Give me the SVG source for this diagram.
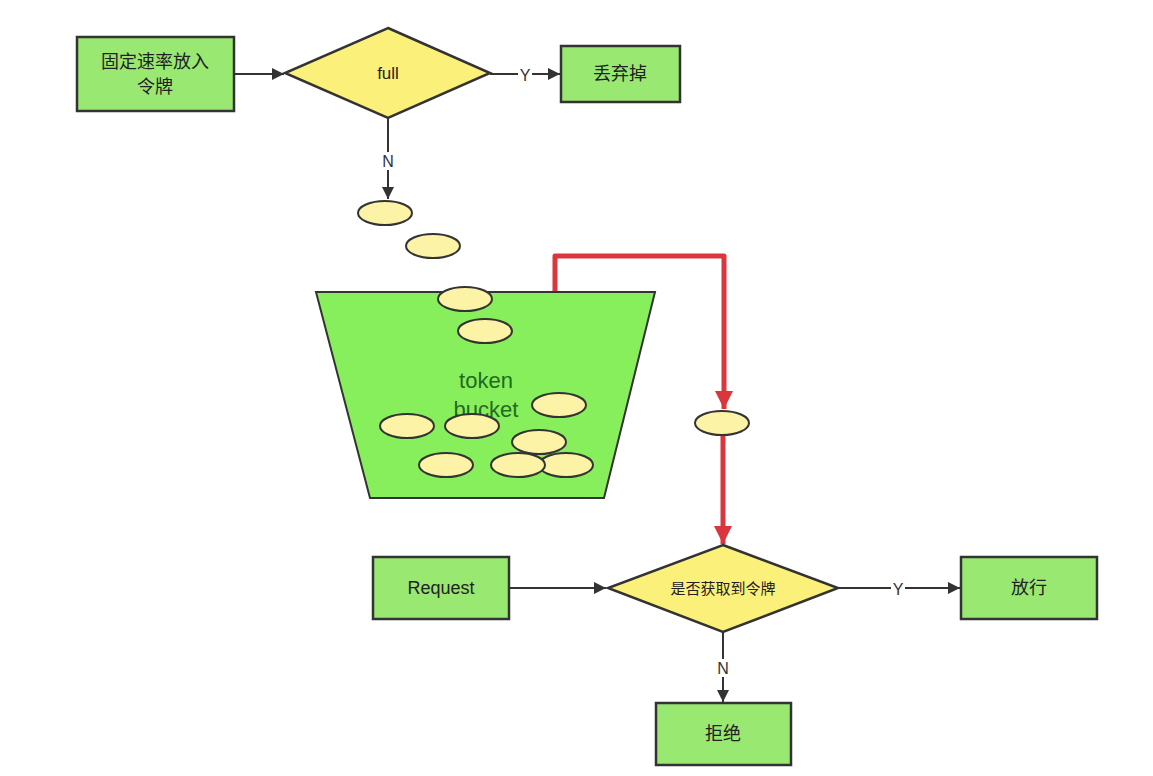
<svg xmlns="http://www.w3.org/2000/svg" width="1153" height="776" viewBox="0 0 1153 776">
<defs>
<style>
.box{fill:#99e872;stroke:#333;stroke-width:2.5}
.dia{fill:#fbf07a;stroke:#333;stroke-width:2.5}
.tok{fill:#fdf3a6;stroke:#333;stroke-width:2}
.bucket{fill:#88ef5c;stroke:#333;stroke-width:2}
.t{font-family:"Liberation Sans","Noto Sans CJK SC",sans-serif;fill:#222;text-anchor:middle;dominant-baseline:central}
.c{stroke:#333;stroke-width:2;fill:none}
.r{stroke:#d9363e;stroke-width:5;fill:none;stroke-linejoin:round}
.lbl{font-family:"Liberation Sans",sans-serif;font-size:16px;fill:#333;text-anchor:middle;dominant-baseline:central}
</style>
<marker id="ah" viewBox="0 0 10 10" refX="10" refY="5" markerWidth="15" markerHeight="12" markerUnits="userSpaceOnUse" orient="auto"><path d="M0,0 L10,5 L0,10 Z" fill="#333"/></marker>
<marker id="rh" viewBox="0 0 10 10" refX="10" refY="5" markerWidth="26" markerHeight="18" markerUnits="userSpaceOnUse" orient="auto"><path d="M0,0 L10,5 L0,10 Z" fill="#d9363e"/></marker>
</defs>
<rect width="1153" height="776" fill="#fff"/>

<g id="connectors">
<line class="c" x1="234" y1="74" x2="284" y2="74" marker-end="url(#ah)"/>
<line class="c" x1="490" y1="74" x2="518" y2="74"/>
<line class="c" x1="532" y1="74" x2="560" y2="74" marker-end="url(#ah)"/>
<text class="lbl" x="525" y="75">Y</text>
<line class="c" x1="388" y1="118" x2="388" y2="152"/>
<line class="c" x1="388" y1="170" x2="388" y2="199" marker-end="url(#ah)"/>
<text class="lbl" x="388" y="161">N</text>
<line class="c" x1="509" y1="588" x2="606" y2="588" marker-end="url(#ah)"/>
<line class="c" x1="838" y1="588" x2="891" y2="588"/>
<line class="c" x1="905" y1="588" x2="960" y2="588" marker-end="url(#ah)"/>
<text class="lbl" x="898" y="589">Y</text>
<line class="c" x1="723" y1="632" x2="723" y2="659"/>
<line class="c" x1="723" y1="677" x2="723" y2="702" marker-end="url(#ah)"/>
<text class="lbl" x="723" y="668">N</text>
<path class="r" d="M555,292 V256 H724 V409" marker-end="url(#rh)"/>
<path class="r" d="M723,435 V544" marker-end="url(#rh)"/>
</g>

<g id="rate-box"><rect class="box" x="77" y="37" width="157" height="74"/>
<text class="t" x="155" y="62" font-size="18">固定速率放入</text>
<text class="t" x="155" y="87" font-size="18">令牌</text></g>

<g id="full"><polygon class="dia" points="388,28 490,73 388,118 285,73"/>
<text class="t" x="388" y="73" font-size="17">full</text></g>

<g id="discard"><rect class="box" x="561" y="46" width="119" height="56"/>
<text class="t" x="620" y="74" font-size="18">丢弃掉</text></g>

<g id="bucket"><polygon class="bucket" points="316,292 655,292 604,498 370,498"/>
<text class="t" x="486" y="380" font-size="22" style="fill:#1f6b1f">token</text>
<text class="t" x="486" y="409" font-size="22" style="fill:#1f6b1f">bucket</text></g>

<g id="tokens">
<ellipse class="tok" cx="385" cy="213" rx="27" ry="12"/>
<ellipse class="tok" cx="433" cy="246" rx="27" ry="12"/>
<ellipse class="tok" cx="465" cy="299" rx="27" ry="12"/>
<ellipse class="tok" cx="485" cy="331" rx="27" ry="12"/>
<ellipse class="tok" cx="559" cy="405" rx="27" ry="12"/>
<ellipse class="tok" cx="407" cy="426" rx="27" ry="12"/>
<ellipse class="tok" cx="472" cy="426" rx="27" ry="12"/>
<ellipse class="tok" cx="539" cy="442" rx="27" ry="12"/>
<ellipse class="tok" cx="446" cy="465" rx="27" ry="12"/>
<ellipse class="tok" cx="566" cy="465" rx="27" ry="12"/>
<ellipse class="tok" cx="518" cy="465" rx="27" ry="12"/>
<ellipse class="tok" cx="722" cy="423" rx="27" ry="12"/>
</g>

<g id="request"><rect class="box" x="373" y="557" width="136" height="62"/>
<text class="t" x="441" y="588" font-size="18">Request</text></g>

<g id="got-token"><polygon class="dia" points="723,545 838,588 723,632 608,588"/>
<text class="t" x="723" y="588" font-size="15">是否获取到令牌</text></g>

<g id="pass"><rect class="box" x="961" y="557" width="136" height="62"/>
<text class="t" x="1029" y="588" font-size="18">放行</text></g>

<g id="reject"><rect class="box" x="656" y="703" width="135" height="62"/>
<text class="t" x="723" y="734" font-size="18">拒绝</text></g>
</svg>
